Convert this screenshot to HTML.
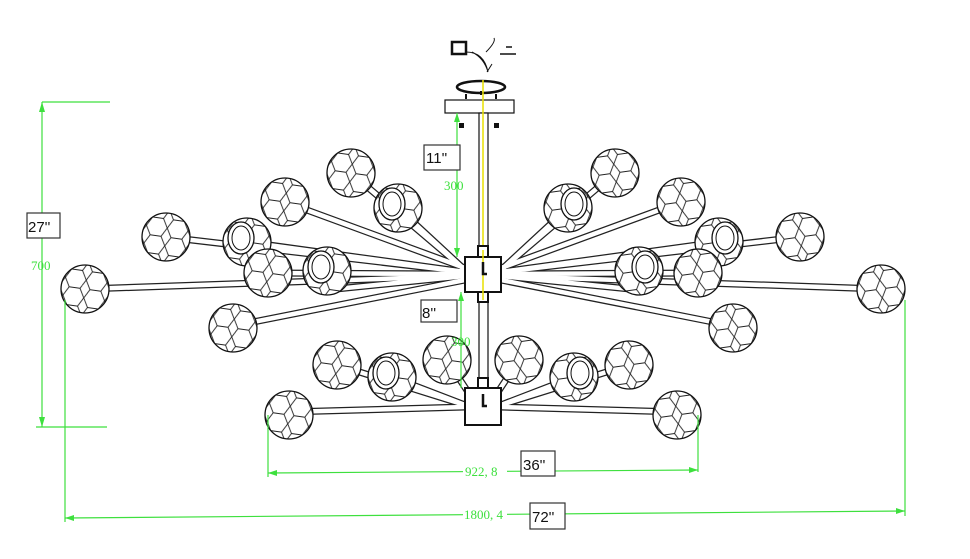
<!DOCTYPE html>
<html><head><meta charset="utf-8"><style>
html,body{margin:0;padding:0;background:#fff;width:970px;height:559px;overflow:hidden}
svg{display:block}
</style></head><body>
<svg width="970" height="559" viewBox="0 0 970 559" xmlns="http://www.w3.org/2000/svg" style="font-family:'Liberation Sans',sans-serif">
<defs>
<pattern id="hx" width="21" height="18" patternUnits="userSpaceOnUse" patternTransform="rotate(8)">
<path d="M0 9 L5 0 L16 0 L21 9 L16 18 L5 18 Z" fill="none" stroke="#222" stroke-width="0.9"/>
</pattern>
<g id="gl"><circle r="24" fill="#fff"/><circle r="24" fill="url(#hx)"/><circle r="24" fill="none" stroke="#111" stroke-width="1.3"/></g>
<g id="gh"><use href="#gl"/><ellipse cx="-6" cy="-4" rx="13" ry="16" fill="#fff" stroke="#111" stroke-width="1.3"/><ellipse cx="-6" cy="-4" rx="9" ry="12" fill="none" stroke="#111"/></g>
</defs>

<g>
<g id="rodsU" fill="none">
<g stroke="#222" stroke-width="7">
<line x1="465" y1="270" x2="351" y2="173"/><line x1="465" y1="270" x2="398" y2="208"/>
<line x1="465" y1="268" x2="285" y2="202"/><line x1="465" y1="272" x2="166" y2="237"/>
<line x1="465" y1="274" x2="270" y2="273"/><line x1="465" y1="276" x2="326" y2="290"/>
<line x1="465" y1="276" x2="85" y2="289"/><line x1="465" y1="280" x2="233" y2="326"/>
<line x1="465" y1="272" x2="247" y2="242"/>
</g>
<g stroke="#fff" stroke-width="4.5">
<line x1="465" y1="270" x2="351" y2="173"/><line x1="465" y1="270" x2="398" y2="208"/>
<line x1="465" y1="268" x2="285" y2="202"/><line x1="465" y1="272" x2="166" y2="237"/>
<line x1="465" y1="274" x2="270" y2="273"/><line x1="465" y1="276" x2="326" y2="290"/>
<line x1="465" y1="276" x2="85" y2="289"/><line x1="465" y1="280" x2="233" y2="326"/>
<line x1="465" y1="272" x2="247" y2="242"/>
</g>
</g>
<use href="#rodsU" transform="translate(966,0) scale(-1,1)"/>
<g id="rodsL" fill="none">
<g stroke="#222" stroke-width="7">
<line x1="465" y1="407" x2="287" y2="412"/><line x1="465" y1="405" x2="337" y2="365"/>
<line x1="465" y1="405" x2="392" y2="377"/><line x1="470" y1="395" x2="447" y2="360"/>
</g>
<g stroke="#fff" stroke-width="4.5">
<line x1="465" y1="407" x2="287" y2="412"/><line x1="465" y1="405" x2="337" y2="365"/>
<line x1="465" y1="405" x2="392" y2="377"/><line x1="470" y1="395" x2="447" y2="360"/>
</g>
</g>
<use href="#rodsL" transform="translate(966,0) scale(-1,1)"/>
</g>

<g id="gU">
<use href="#gl" x="166" y="237"/>
<use href="#gh" x="247" y="242"/>
<use href="#gl" x="285" y="202"/>
<use href="#gl" x="351" y="173"/>
<use href="#gh" x="398" y="208"/>
<use href="#gl" x="268" y="273"/>
<use href="#gh" x="327" y="271"/>
<use href="#gl" x="85" y="289"/>
<use href="#gl" x="233" y="328"/>
</g>
<use href="#gU" transform="translate(966,0) scale(-1,1)"/>
<g id="gL">
<use href="#gl" x="337" y="365"/>
<use href="#gh" x="392" y="377"/>
<use href="#gl" x="447" y="360"/>
<use href="#gl" x="289" y="415"/>
</g>
<use href="#gL" transform="translate(966,0) scale(-1,1)"/>

<!-- top fixture -->
<g stroke="#111" fill="none">
<ellipse cx="481" cy="87" rx="24" ry="6" stroke-width="2.5"/>
<path d="M466 94 v5 M496 94 v5 M481 91 v4" stroke-width="2"/>
<path d="M466 52 q18 0 22 20 M472 52 q12 6 16 20 M487 72 l5 -8" stroke-width="1"/>
<rect x="452" y="42" width="14" height="12" stroke-width="2.5"/>
<path d="M486 52 q10 -10 8 -14" stroke-width="1"/>
<path d="M500 54 h16 M506 47 h6" stroke-width="1.5"/>
<rect x="445" y="100" width="69" height="13" fill="#fff" stroke-width="1.2"/>
<rect x="479" y="113" width="9" height="268" fill="#fff" stroke-width="1.2"/>
</g>
<line x1="483" y1="80" x2="483" y2="260" stroke="#e8e000" stroke-width="1.5"/>
<rect x="459" y="123" width="5" height="5" fill="#111"/><rect x="494" y="123" width="5" height="5" fill="#111"/>

<g stroke="#111" fill="#fff">
<rect x="478" y="246" width="10" height="12" stroke-width="2"/>
<rect x="478" y="291" width="10" height="11" stroke-width="2"/>
<rect x="465" y="257" width="36" height="35" stroke-width="2"/>
<rect x="478" y="378" width="10" height="12" stroke-width="2"/>
<rect x="465" y="388" width="36" height="37" stroke-width="2"/>
</g>
<line x1="483" y1="250" x2="483" y2="300" stroke="#e8e000" stroke-width="1.5"/>
<path d="M483 262 v12 h4 M483 394 v12 h4" stroke="#111" stroke-width="2.5" fill="none"/>

<g stroke="#3ee03e" stroke-width="1.2" fill="none">
<line x1="42" y1="102" x2="110" y2="102"/><line x1="36" y1="427" x2="107" y2="427"/>
<line x1="42" y1="102" x2="42" y2="427"/>
<line x1="457" y1="113" x2="457" y2="257"/>
<line x1="461" y1="292" x2="461" y2="388"/>
<line x1="268" y1="415" x2="268" y2="477"/><line x1="698" y1="415" x2="698" y2="472"/>
<line x1="268" y1="473" x2="698" y2="470"/>
<line x1="65" y1="300" x2="65" y2="522"/><line x1="905" y1="300" x2="905" y2="516"/>
<line x1="65" y1="518" x2="905" y2="511"/>
</g>
<g fill="#3ee03e">
<path d="M42 102 l-3 10 h6 z M42 427 l-3 -10 h6 z M457 113 l-3 9 h6z M457 257 l-3 -9 h6z M461 292 l-3 9 h6z"/>
<path d="M268 473 l9 -3 v6z M698 470 l-9 -3 v6z M65 518 l9 -3 v6z M905 511 l-9 -3 v6z"/>
</g>
<g fill="#3ee03e" style="font-family:'Liberation Serif',serif;font-size:13px">
<text x="31" y="270">700</text>
<text x="444" y="190">300</text>
<text x="451" y="346">300</text>
<rect x="463" y="464" width="44" height="14" fill="#fff"/>
<text x="465" y="476">922, 8</text>
<rect x="463" y="507" width="44" height="14" fill="#fff"/>
<text x="464" y="519">1800, 4</text>
</g>
<g fill="#fff" stroke="#333" stroke-width="1.2">
<rect x="27" y="213" width="33" height="25"/>
<rect x="424" y="145" width="36" height="25"/>
<rect x="421" y="300" width="36" height="22"/>
<rect x="521" y="451" width="34" height="25"/>
<rect x="530" y="503" width="35" height="26"/>
</g>
<g fill="#111" style="font-size:15px">
<text x="28" y="232">27''</text>
<text x="426" y="163">11''</text>
<text x="422" y="318">8''</text>
<text x="523" y="470">36''</text>
<text x="532" y="522">72''</text>
</g>
</svg>
</body></html>
